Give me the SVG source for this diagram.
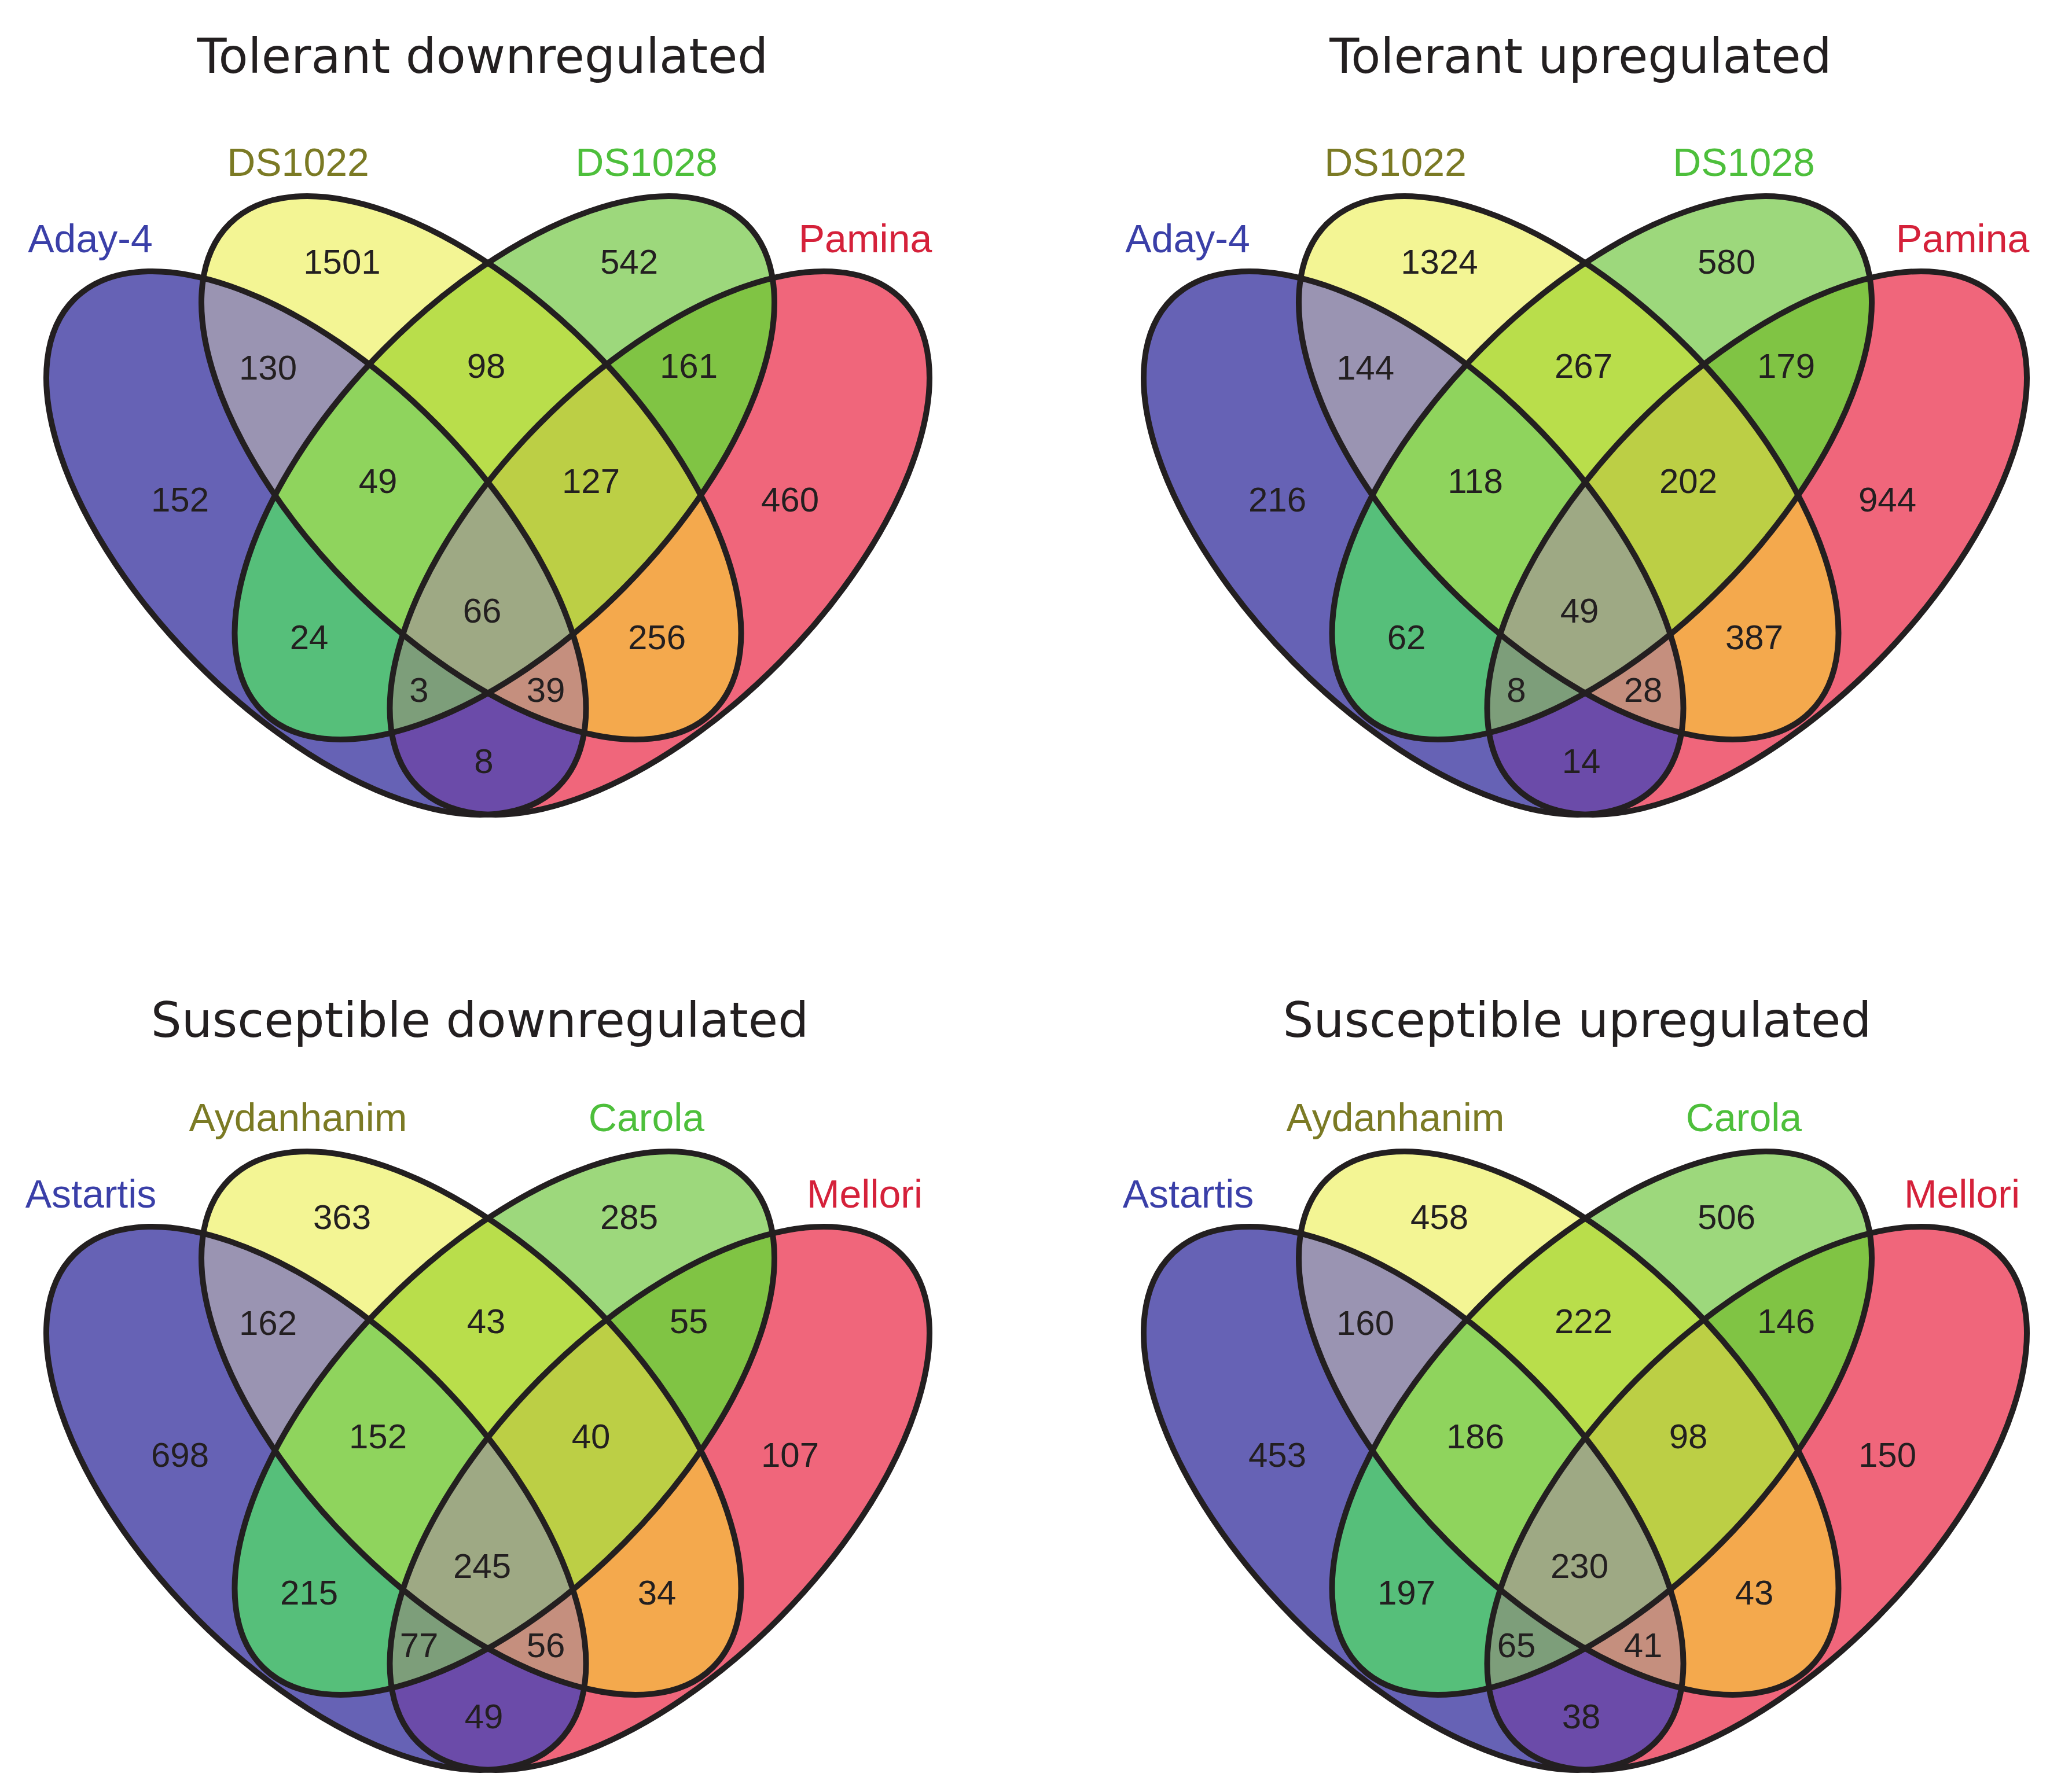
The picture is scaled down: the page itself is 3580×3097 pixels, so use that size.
<svg xmlns="http://www.w3.org/2000/svg" width="3580" height="3097" viewBox="0 0 3580 3097">
<style>
.t{font-family:"DejaVu Sans",Verdana,sans-serif;font-size:83.5px;fill:#231f20;text-anchor:middle}
.l{font-family:"Liberation Sans",Arial,sans-serif;font-size:68px;text-anchor:middle}
.n{font-family:"Liberation Sans",Arial,sans-serif;font-size:60px;fill:#231f20;text-anchor:middle}
.c1{fill:#3a3fa8}.c2{fill:#7b7a24}.c3{fill:#4dbf3b}.c4{fill:#d5213a}
.o{fill:none;stroke:#231f20;stroke-width:10}
</style>
<defs>
<ellipse id="eA" cx="546.25" cy="938.5" rx="593.5" ry="292.5" transform="rotate(45.33 546.25 938.5)"/>
<ellipse id="eB" cx="814.25" cy="808.5" rx="593.5" ry="292.5" transform="rotate(45.33 814.25 808.5)"/>
<ellipse id="eC" cx="871.75" cy="808.5" rx="593.5" ry="292.5" transform="rotate(-45.33 871.75 808.5)"/>
<ellipse id="eD" cx="1139.75" cy="938.5" rx="593.5" ry="292.5" transform="rotate(-45.33 1139.75 938.5)"/>
<clipPath id="cA"><use href="#eA"/></clipPath>
<clipPath id="cB"><use href="#eB"/></clipPath>
<clipPath id="cC"><use href="#eC"/></clipPath>
<g id="venn">
<use href="#eA" fill="#6662b5"/>
<use href="#eB" fill="#f3f594"/>
<use href="#eC" fill="#9dd87c"/>
<use href="#eD" fill="#f0667b"/>
<g clip-path="url(#cA)"><use href="#eB" fill="#9a94b2"/></g>
<g clip-path="url(#cA)"><use href="#eC" fill="#56bf7a"/></g>
<g clip-path="url(#cA)"><use href="#eD" fill="#6b4ba9"/></g>
<g clip-path="url(#cB)"><use href="#eC" fill="#b9de4b"/></g>
<g clip-path="url(#cB)"><use href="#eD" fill="#f4a94d"/></g>
<g clip-path="url(#cC)"><use href="#eD" fill="#80c444"/></g>
<g clip-path="url(#cA)"><g clip-path="url(#cB)"><use href="#eC" fill="#8fd45d"/></g></g>
<g clip-path="url(#cA)"><g clip-path="url(#cB)"><use href="#eD" fill="#c58f7e"/></g></g>
<g clip-path="url(#cA)"><g clip-path="url(#cC)"><use href="#eD" fill="#7d9e7a"/></g></g>
<g clip-path="url(#cB)"><g clip-path="url(#cC)"><use href="#eD" fill="#bccf45"/></g></g>
<g clip-path="url(#cA)"><g clip-path="url(#cB)"><g clip-path="url(#cC)"><use href="#eD" fill="#9ea984"/></g></g></g>
<use href="#eA" class="o"/>
<use href="#eB" class="o"/>
<use href="#eC" class="o"/>
<use href="#eD" class="o"/>
</g>
</defs>

<g id="panel-tolerant-down">
<text class="t" x="834" y="126">Tolerant downregulated</text>
<use href="#venn"/>
<text class="l c1" x="156" y="436">Aday-4</text>
<text class="l c2" x="515" y="304">DS1022</text>
<text class="l c3" x="1117" y="304">DS1028</text>
<text class="l c4" x="1495" y="436">Pamina</text>
<g class="counts">
<text class="n" x="591" y="473">1501</text>
<text class="n" x="1087" y="473">542</text>
<text class="n" x="463" y="656">130</text>
<text class="n" x="840" y="653">98</text>
<text class="n" x="1190" y="653">161</text>
<text class="n" x="311" y="884">152</text>
<text class="n" x="653" y="852">49</text>
<text class="n" x="1021" y="852">127</text>
<text class="n" x="1365" y="884">460</text>
<text class="n" x="833" y="1076">66</text>
<text class="n" x="534" y="1122">24</text>
<text class="n" x="1135" y="1122">256</text>
<text class="n" x="724" y="1213">3</text>
<text class="n" x="943" y="1213">39</text>
<text class="n" x="836" y="1336">8</text>
</g>
</g>

<g id="panel-tolerant-up" transform="translate(1896 0)">
<text class="t" x="835" y="126">Tolerant upregulated</text>
<use href="#venn"/>
<text class="l c1" x="156" y="436">Aday-4</text>
<text class="l c2" x="515" y="304">DS1022</text>
<text class="l c3" x="1117" y="304">DS1028</text>
<text class="l c4" x="1495" y="436">Pamina</text>
<g class="counts">
<text class="n" x="591" y="473">1324</text>
<text class="n" x="1087" y="473">580</text>
<text class="n" x="463" y="656">144</text>
<text class="n" x="840" y="653">267</text>
<text class="n" x="1190" y="653">179</text>
<text class="n" x="311" y="884">216</text>
<text class="n" x="653" y="852">118</text>
<text class="n" x="1021" y="852">202</text>
<text class="n" x="1365" y="884">944</text>
<text class="n" x="833" y="1076">49</text>
<text class="n" x="534" y="1122">62</text>
<text class="n" x="1135" y="1122">387</text>
<text class="n" x="724" y="1213">8</text>
<text class="n" x="943" y="1213">28</text>
<text class="n" x="836" y="1336">14</text>
</g>
</g>

<g id="panel-susceptible-down" transform="translate(0 1651)">
<text class="t" x="829" y="141">Susceptible downregulated</text>
<use href="#venn"/>
<text class="l c1" x="157" y="436">Astartis</text>
<text class="l c2" x="515" y="304">Aydanhanim</text>
<text class="l c3" x="1117" y="304">Carola</text>
<text class="l c4" x="1494" y="436">Mellori</text>
<g class="counts">
<text class="n" x="591" y="473">363</text>
<text class="n" x="1087" y="473">285</text>
<text class="n" x="463" y="656">162</text>
<text class="n" x="840" y="653">43</text>
<text class="n" x="1190" y="653">55</text>
<text class="n" x="311" y="884">698</text>
<text class="n" x="653" y="852">152</text>
<text class="n" x="1021" y="852">40</text>
<text class="n" x="1365" y="884">107</text>
<text class="n" x="833" y="1076">245</text>
<text class="n" x="534" y="1122">215</text>
<text class="n" x="1135" y="1122">34</text>
<text class="n" x="724" y="1213">77</text>
<text class="n" x="943" y="1213">56</text>
<text class="n" x="836" y="1336">49</text>
</g>
</g>

<g id="panel-susceptible-up" transform="translate(1896 1651)">
<text class="t" x="829" y="141">Susceptible upregulated</text>
<use href="#venn"/>
<text class="l c1" x="157" y="436">Astartis</text>
<text class="l c2" x="515" y="304">Aydanhanim</text>
<text class="l c3" x="1117" y="304">Carola</text>
<text class="l c4" x="1494" y="436">Mellori</text>
<g class="counts">
<text class="n" x="591" y="473">458</text>
<text class="n" x="1087" y="473">506</text>
<text class="n" x="463" y="656">160</text>
<text class="n" x="840" y="653">222</text>
<text class="n" x="1190" y="653">146</text>
<text class="n" x="311" y="884">453</text>
<text class="n" x="653" y="852">186</text>
<text class="n" x="1021" y="852">98</text>
<text class="n" x="1365" y="884">150</text>
<text class="n" x="833" y="1076">230</text>
<text class="n" x="534" y="1122">197</text>
<text class="n" x="1135" y="1122">43</text>
<text class="n" x="724" y="1213">65</text>
<text class="n" x="943" y="1213">41</text>
<text class="n" x="836" y="1336">38</text>
</g>
</g>
</svg>
